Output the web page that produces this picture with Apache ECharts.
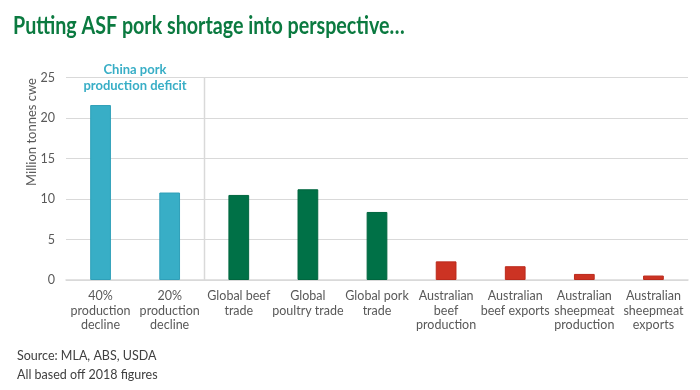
<!DOCTYPE html>
<html><head><meta charset="utf-8">
<script src="https://cdn.jsdelivr.net/npm/echarts@6/dist/echarts.min.js"></script>
<style>html,body{margin:0;padding:0;background:#fff}#c{width:700px;height:390px}</style>
</head><body><div id="c"></div>
<script>
const categories = ['40%\nproduction\ndecline','20%\nproduction\ndecline','Global beef\ntrade','Global\npoultry trade','Global pork\ntrade','Australian\nbeef\nproduction','Australian\nbeef exports','Australian\nsheepmeat\nproduction','Australian\nsheepmeat\nexports'];
const values = [21.6, 10.8, 10.5, 11.2, 8.4, 2.3, 1.7, 0.75, 0.55];
const groups = ['china','china','global','global','global','aus','aus','aus','aus'];
const groupColors = {china:'#38aec6', global:'#007147', aus:'#cc3323'};
const groupBorders = {china:'#2f9fb8', global:'#00663f', aus:'#bb2a1c'};
const yTicks = [0,5,10,15,20,25];
const font = 'Lato, "Open Sans", sans-serif';

const chart = echarts.init(document.getElementById('c'));
chart.setOption({
  animation:false,
  backgroundColor:'#fff',
  grid:{left:66, right:12, top:77.5, bottom:110},
  xAxis:{type:'category', data:categories,
    axisLine:{lineStyle:{color:'#d9d9d9', width:1.5}}, axisTick:{show:false},
    axisLabel:{color:'#595959', fontSize:12.5, lineHeight:14.5, fontFamily:font, margin:9, interval:0}},
  yAxis:{type:'value', min:yTicks[0], max:yTicks[yTicks.length-1], interval:5,
    axisLine:{show:false}, axisTick:{show:false},
    axisLabel:{color:'#595959', fontSize:12.5, fontFamily:font, margin:11},
    splitLine:{lineStyle:{color:'#d9d9d9', width:1}}},
  series:[{type:'bar', barWidth:'30%',
    data: values.map((v,i)=>({value:v, itemStyle:{color:groupColors[groups[i]], borderColor:groupBorders[groups[i]], borderWidth:1}}))
  }]
});
// divider between China group and others: midpoint between category 1 and 2
const p1 = chart.convertToPixel({xAxisIndex:0}, 1);
const p2 = chart.convertToPixel({xAxisIndex:0}, 2);
const yTop = chart.convertToPixel({yAxisIndex:0}, yTicks[yTicks.length-1]);
const yBot = chart.convertToPixel({yAxisIndex:0}, yTicks[0]);
const xd = Math.round((p1+p2)/2)+0.5;
chart.setOption({graphic:[
  {id:'title', type:'text', x:13, y:26, scaleX:0.82, style:{text:'Putting ASF pork shortage into perspective…', fill:'#0b7a40', font:'bold 24px '+font, verticalAlign:'middle'}},
  {id:'divider', type:'line', z:1, shape:{x1:xd, y1:yTop, x2:xd, y2:yBot}, style:{stroke:'#d9d9d9', lineWidth:1.5}},
  {id:'yname', type:'text', x:32, y:132, rotation:Math.PI/2, style:{text:'Million tonnes cwe', fill:'#595959', font:'13px '+font, align:'center', verticalAlign:'middle'}},
  {id:'annot', type:'text', x:135, y:78, style:{text:'China pork\nproduction deficit', fill:'#38aec6', font:'bold 13px '+font, align:'center', verticalAlign:'middle', lineHeight:16}},
  {id:'source', type:'text', x:17, y:346, style:{text:'Source: MLA, ABS, USDA\nAll based off 2018 figures', fill:'#404040', font:'12.5px '+font, verticalAlign:'top', lineHeight:19}}
]});
</script></body></html>
